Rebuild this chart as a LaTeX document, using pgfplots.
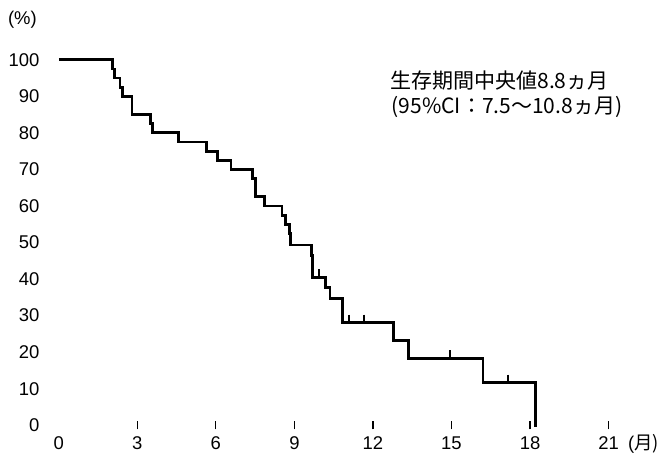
\documentclass[border=0pt]{standalone}
\usepackage{pgfplots}
\pgfplotsset{compat=1.18}
\usepackage{fontspec}
\setmainfont{Liberation Sans}
\newfontfamily\jp{Noto Sans CJK JP}
\begin{document}
\fontsize{9.3}{11}\selectfont
\begin{tikzpicture}
\begin{axis}[
  scale only axis,
  width=276bp, height=183.5bp,
  xmin=0, xmax=21, ymin=0, ymax=100,
  clip=false,
  axis line style={draw=none},
  xtick={0,3,...,21},
  ytick={0,10,...,100},
  xtick pos=bottom, ytick pos=left,
  xtick style={draw=none},
  ytick style={draw=none},
  extra x ticks={3,6,...,21},
  extra x tick labels={},
  extra x tick style={xtick style={draw=black, line width=0.6pt}, major tick length=4bp, tick align=center},
  xticklabel style={anchor=north, inner sep=0pt, yshift=-5.5bp},
  yticklabel style={anchor=east, inner sep=0pt, xshift=-9.5bp},
  /pgf/number format/assume math mode=true,
  ticklabel style={font=\fontsize{9.3}{11}\selectfont},
]
\addplot[const plot, black, line width=1.4pt] coordinates {
(0,100) (2.06,97.5) (2.12,95) (2.34,92.5) (2.44,90) (2.8,85) (3.49,82.5)
(3.59,80) (4.57,77.5) (5.64,75) (6.06,72.5) (6.58,70) (7.4,67.5) (7.5,62.5)
(7.87,60) (8.53,57.5) (8.65,55) (8.8,52.5) (8.85,49.3) (9.64,46.5) (9.7,40.5)
(10.2,37.8) (10.36,34.6) (10.85,28.1) (12.78,23.3) (13.37,18.3) (16.2,11.7)
(18.22,-0.5)
};
\addplot[only marks, mark=|, mark size=2bp, black, mark options={line width=1pt}] coordinates {
(9.95,41.6) (11.1,29.2) (11.66,29.2) (14.93,19.4) (17.15,12.8)
};
\node[font=\jp\fontsize{10.6}{12}\selectfont, anchor=center] at (axis cs:16.83,94.3) {生存期間中央値8.8ヵ月};
\node[font=\jp\fontsize{10.6}{12}\selectfont, anchor=center] at (axis cs:17.12,87.0) {(95\%CI：7.5〜10.8ヵ月)};
\end{axis}
\node at (-18.25bp,203.5bp) {(\%)};
\node at (293.5bp,-9.5bp) {(\jp 月)};
\path[use as bounding box] (-29.5bp,-18bp) rectangle (303bp,213.5bp);
\end{tikzpicture}
\end{document}
